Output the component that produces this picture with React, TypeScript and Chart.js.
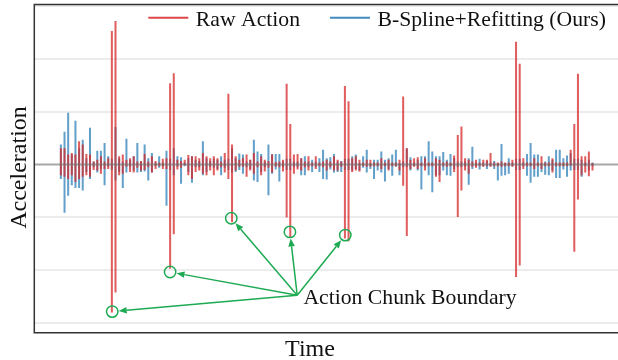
import React, { useEffect, useRef } from 'react';
import { Chart, registerables } from 'chart.js';

Chart.register(...registerables);

// first time step of the sampled series (x index)
const FIRST_STEP = 7;
const X_MIN = -0.3;
const X_MAX = 160;

// Raw Action: acceleration stroke per time step, [low, high]
const rawAction: [number, number][] = [
  [-0.2, 0.3], [-0.23, 0.3], [-0.27, 0.18], [-0.2, 0.21], [-0.33, 0.18], [-0.27, 0.43], [-0.23, 0.37], [-0.2, 0.19],
  [-0.23, 0.18], [-0.1, 0.05], [-0.11, 0.08], [-0.17, 0.15], [-0.08, 0.05], [-0.08, 0.11], [-2.8, 2.52], [-2.42, 2.71],
  [-0.2, 0.15], [-0.17, 0.18], [-0.04, 0.08], [-0.14, 0.11], [-0.15, 0.15], [-0.06, 0.05], [-0.11, 0.06], [-0.1, 0.19],
  [-0.05, 0.05], [-0.15, 0.15], [-0.08, 0.06], [-0.03, 0.03], [-0.08, 0.1], [-0.08, 0.11], [-1.97, 1.53], [-1.32, 1.72],
  [-0.09, 0.08], [-0.06, 0.06], [-0.01, 0.08], [-0.2, 0.17], [-0.27, 0.15], [-0.14, 0.15], [-0.11, 0.11], [-0.17, 0.21],
  [-0.2, 0.15], [-0.11, 0.11], [-0.2, 0.15], [-0.11, 0.11], [-0.05, 0.05], [-0.15, 0.21], [-0.27, 1.33], [-1.09, 0.37],
  [-0.11, 0.15], [-0.04, 0.08], [-0.04, 0.11], [-0.23, 0.18], [-0.11, 0.08], [-0.17, 0.21], [-0.05, 0.05], [-0.2, 0.15],
  [-0.13, 0.08], [-0.06, 0.06], [-0.15, 0.18], [-0.04, 0.04], [-0.05, 0.05], [-0.13, 0.08], [-1.0, 1.52], [-1.37, 0.76],
  [-0.17, 0.18], [-0.09, 0.19], [-0.11, 0.11], [-0.05, 0.05], [-0.11, 0.15], [-0.03, 0.03], [-0.08, 0.15], [-0.03, 0.03],
  [-0.05, 0.05], [-0.11, 0.08], [-0.05, 0.05], [-0.11, 0.15], [-0.11, 0.08], [-0.04, 0.05], [-1.4, 1.48], [-1.45, 1.19],
  [-0.14, 0.11], [-0.11, 0.15], [-0.13, 0.08], [-0.03, 0.03], [-0.04, 0.08], [-0.04, 0.08], [-0.03, 0.03], [-0.03, 0.03],
  [-0.08, 0.11], [-0.03, 0.03], [-0.11, 0.08], [-0.03, 0.03], [-0.03, 0.03], [-0.11, 0.08], [-0.4, 1.28], [-1.35, 0.3],
  [-0.08, 0.08], [-0.04, 0.11], [-0.08, 0.13], [-0.03, 0.03], [-0.11, 0.11], [-0.03, 0.03], [-0.03, 0.03], [-0.23, 0.11],
  [-0.33, 0.08], [-0.03, 0.03], [-0.04, 0.05], [-0.03, 0.03], [-0.14, 0.16], [-0.99, 0.55], [-0.49, 0.71], [-0.11, 0.11],
  [-0.17, 0.08], [-0.04, 0.05], [-0.06, 0.08], [-0.03, 0.03], [-0.04, 0.08], [-0.03, 0.08], [-0.04, 0.21], [-0.03, 0.03],
  [-0.03, 0.03], [-0.04, 0.05], [-0.03, 0.03], [-0.03, 0.03], [-0.04, 0.08], [-2.13, 2.32], [-1.91, 1.9], [-0.08, 0.11],
  [-0.03, 0.03], [-0.03, 0.03], [-0.08, 0.11], [-0.03, 0.03], [-0.08, 0.15], [-0.03, 0.03], [-0.03, 0.03], [-0.15, 0.11],
  [-0.03, 0.03], [-0.03, 0.03], [-0.03, 0.03], [-0.03, 0.03], [-0.02, 0.27], [-1.65, 0.76], [-0.66, 1.71], [-0.2, 0.15],
  [-0.15, 0.15], [-0.22, 0.24], [-0.11, 0.02],
];

// B-Spline+Refitting (Ours): acceleration stroke per time step, [low, high]
const bSplineRefit: [number, number][] = [
  [-0.27, 0.37], [-0.91, 0.61], [-0.59, 0.97], [-0.39, 0.18], [-0.44, 0.82], [-0.44, 0.3], [-0.49, 0.46], [-0.14, 0.11],
  [-0.27, 0.69], [-0.05, 0.05], [-0.15, 0.25], [-0.08, 0.25], [-0.39, 0.4], [-0.04, 0.15], [-0.1, 0.1], [-0.3, 0.7],
  [-0.14, 0.11], [-0.44, 0.05], [-0.15, 0.48], [-0.05, 0.08], [-0.11, 0.15], [-0.15, 0.4], [-0.14, 0.05], [-0.13, 0.37],
  [-0.3, 0.11], [-0.15, 0.21], [-0.03, 0.03], [-0.06, 0.15], [-0.03, 0.03], [-0.78, 0.25], [-0.1, 0.1], [-0.2, 0.3],
  [-0.04, 0.15], [-0.36, 0.13], [-0.03, 0.03], [-0.14, 0.11], [-0.34, 0.15], [-0.05, 0.08], [-0.05, 0.06], [-0.2, 0.43],
  [-0.14, 0.11], [-0.04, 0.06], [-0.06, 0.1], [-0.08, 0.08], [-0.2, 0.15], [-0.06, 0.08], [-0.1, 0.1], [-0.15, 0.3],
  [-0.14, 0.11], [-0.1, 0.2], [-0.17, 0.18], [-0.05, 0.05], [-0.08, 0.08], [-0.3, 0.46], [-0.33, 0.24], [-0.14, 0.19],
  [-0.05, 0.05], [-0.58, 0.37], [-0.17, 0.19], [-0.09, 0.19], [-0.32, 0.19], [-0.05, 0.05], [-0.1, 0.1], [-0.1, 0.1],
  [-0.05, 0.05], [-0.05, 0.05], [-0.2, 0.11], [-0.2, 0.15], [-0.05, 0.05], [-0.14, 0.08], [-0.05, 0.05], [-0.14, 0.11],
  [-0.27, 0.27], [-0.28, 0.11], [-0.09, 0.13], [-0.15, 0.19], [-0.14, 0.05], [-0.14, 0.06], [-0.1, 0.1], [-0.1, 0.1],
  [-0.11, 0.15], [-0.08, 0.18], [-0.11, 0.02], [-0.06, 0.15], [-0.15, 0.27], [-0.08, 0.02], [-0.27, 0.08], [-0.11, 0.08],
  [-0.15, 0.24], [-0.32, 0.08], [-0.08, 0.11], [-0.21, 0.18], [-0.04, 0.27], [-0.2, 0.02], [-0.05, 0.05], [-0.05, 0.3],
  [-0.11, 0.13], [-0.03, 0.03], [-0.11, 0.08], [-0.47, 0.15], [-0.04, 0.15], [-0.2, 0.43], [-0.52, 0.24], [-0.2, 0.15],
  [-0.2, 0.15], [-0.11, 0.23], [-0.2, 0.08], [-0.21, 0.19], [-0.08, 0.11], [-0.05, 0.05], [-0.05, 0.05], [-0.04, 0.05],
  [-0.38, 0.11], [-0.08, 0.33], [-0.03, 0.03], [-0.09, 0.1], [-0.03, 0.03], [-0.08, 0.06], [-0.03, 0.03], [-0.08, 0.06],
  [-0.3, 0.02], [-0.21, 0.38], [-0.2, 0.02], [-0.17, 0.11], [-0.03, 0.03], [-0.1, 0.1], [-0.1, 0.1], [-0.03, 0.03],
  [-0.21, 0.19], [-0.34, 0.4], [-0.23, 0.18], [-0.23, 0.18], [-0.14, 0.02], [-0.19, 0.05], [-0.2, 0.15], [-0.11, 0.08],
  [-0.25, 0.27], [-0.25, 0.27], [-0.09, 0.11], [-0.23, 0.16], [-0.11, 0.21], [-0.1, 0.1], [-0.1, 0.1], [-0.23, 0.08],
  [-0.03, 0.03], [-0.11, 0.08], [-0.03, 0.03],
];

const Y_MIN = -3.19;
const Y_MAX = 3.03;
const yGridTicks = [-3, -2, -1, 0, 1, 2, 3];

const seriesLabels = ['Raw Action', 'B-Spline+Refitting (Ours)'];
const xTitle = 'Time';
const yTitle = 'Acceleration';
const annotationText = 'Action Chunk Boundary';

// annotation anchors in data units [time, acceleration]
const boundaryCircles: [number, number][] = [
  [21.1, -2.79], [37.0, -2.04], [53.8, -1.02], [69.9, -1.28], [85.1, -1.34],
];
const arrowOrigin: [number, number] = [71.9, -2.48];
const labelAnchor: [number, number] = [73.6, -2.645];

const RED = 'rgba(214,39,40,0.75)';
const BLUE = 'rgba(31,119,180,0.7)';
const GREEN = '#1daa52';
const FONT = '"Liberation Serif", "Times New Roman", serif';

const decorations = {
  id: 'decorations',
  afterDatasetsDraw(chart: any) {
    const { ctx, chartArea: a, scales } = chart;
    const x = scales.x;
    const y = scales.y;
    ctx.save();
    // zero line on top of data
    const y0 = y.getPixelForValue(0);
    ctx.strokeStyle = 'rgba(110,110,110,0.6)';
    ctx.lineWidth = 2;
    ctx.beginPath();
    ctx.moveTo(a.left, y0);
    ctx.lineTo(a.right, y0);
    ctx.stroke();

    // frame (left, top, bottom)
    ctx.strokeStyle = '#333333';
    ctx.lineWidth = 1.5;
    ctx.beginPath();
    ctx.moveTo(a.right + 2, a.top);
    ctx.lineTo(a.left, a.top);
    ctx.lineTo(a.left, a.bottom);
    ctx.lineTo(a.right + 2, a.bottom);
    ctx.stroke();

    // annotation: circles + arrows
    const ox = x.getPixelForValue(arrowOrigin[0]);
    const oy = y.getPixelForValue(arrowOrigin[1]);
    const r = 5.7;
    ctx.strokeStyle = GREEN;
    ctx.fillStyle = GREEN;
    ctx.lineWidth = 1.5;
    boundaryCircles.forEach(([t, v]) => {
      const cx = x.getPixelForValue(t);
      const cy = y.getPixelForValue(v);
      ctx.beginPath();
      ctx.arc(cx, cy, r, 0, Math.PI * 2);
      ctx.stroke();
      const dx = ox - cx;
      const dy = oy - cy;
      const len = Math.hypot(dx, dy);
      const ux = dx / len;
      const uy = dy / len;
      const tipX = cx + ux * (r + 0.8);
      const tipY = cy + uy * (r + 0.8);
      const head = 8;
      const hw = 3.3;
      const bx = tipX + ux * head;
      const by = tipY + uy * head;
      ctx.beginPath();
      ctx.moveTo(ox, oy);
      ctx.lineTo(bx, by);
      ctx.stroke();
      ctx.beginPath();
      ctx.moveTo(tipX, tipY);
      ctx.lineTo(bx - uy * hw, by + ux * hw);
      ctx.lineTo(bx + uy * hw, by - ux * hw);
      ctx.closePath();
      ctx.fill();
    });

    ctx.fillStyle = '#111111';
    ctx.font = `21.7px ${FONT}`;
    ctx.textAlign = 'left';
    ctx.textBaseline = 'alphabetic';
    ctx.fillText(annotationText, x.getPixelForValue(labelAnchor[0]), y.getPixelForValue(labelAnchor[1]));
    ctx.restore();
  },
  afterDraw(chart: any) {
    const { ctx } = chart;
    ctx.save();
    // legend
    ctx.font = `21.7px ${FONT}`;
    ctx.textBaseline = 'alphabetic';
    ctx.textAlign = 'left';
    const items = [
      { color: 'rgba(214,39,40,0.85)', x0: 148.3, label: seriesLabels[0] },
      { color: 'rgba(31,119,180,0.85)', x0: 330, label: seriesLabels[1] },
    ];
    items.forEach((it) => {
      ctx.strokeStyle = it.color;
      ctx.lineWidth = 2;
      ctx.beginPath();
      ctx.moveTo(it.x0, 17.7);
      ctx.lineTo(it.x0 + 40, 17.7);
      ctx.stroke();
      ctx.fillStyle = '#111111';
      ctx.fillText(it.label, it.x0 + 47.5, 25.5);
    });

    // axis titles
    ctx.font = `24px ${FONT}`;
    ctx.textAlign = 'center';
    ctx.fillText(xTitle, 310, 356);
    ctx.translate(26, 167.5);
    ctx.rotate(-Math.PI / 2);
    ctx.fillText(yTitle, 0, 0);
    ctx.restore();
  },
};

export default function App() {
  const canvasRef = useRef<HTMLCanvasElement | null>(null);

  useEffect(() => {
    document.body.style.margin = '0';
    const canvas = canvasRef.current;
    if (!canvas) return;
    const toPoints = (arr: [number, number][]) =>
      arr.map((range, i) => ({ x: FIRST_STEP + i, y: range }));

    const chart = new Chart(canvas, {
      type: 'bar',
      data: {
        datasets: [
          {
            label: seriesLabels[0],
            data: toPoints(rawAction) as any,
            backgroundColor: RED,
            borderWidth: 0,
            barThickness: 1.35,
            grouped: false,
          } as any,
          {
            label: seriesLabels[1],
            data: toPoints(bSplineRefit) as any,
            backgroundColor: BLUE,
            borderWidth: 0,
            barThickness: 1.35,
            grouped: false,
          } as any,
        ],
      },
      options: {
        responsive: false,
        animation: false,
        devicePixelRatio: 1,
        layout: { padding: { left: 34.3, top: 4.5, right: 0, bottom: 27.3 } },
        plugins: { legend: { display: false }, tooltip: { enabled: false } },
        scales: {
          x: {
            type: 'linear',
            min: X_MIN,
            max: X_MAX,
            offset: false,
            display: false,
          },
          y: {
            type: 'linear',
            min: Y_MIN,
            max: Y_MAX,
            afterBuildTicks: (axis: any) => {
              axis.ticks = yGridTicks.map((v) => ({ value: v }));
            },
            ticks: { display: false },
            border: { display: false },
            grid: {
              drawTicks: false,
              lineWidth: 2,
              color: (c: any) => (c.tick && c.tick.value === 0 ? 'rgba(0,0,0,0)' : '#ececec'),
            },
          },
        },
      },
      plugins: [decorations],
    });
    return () => chart.destroy();
  }, []);

  return (
    <div style={{ width: 618, height: 360 }}>
      <canvas ref={canvasRef} width={618} height={360} style={{ display: 'block' }} />
    </div>
  );
}
